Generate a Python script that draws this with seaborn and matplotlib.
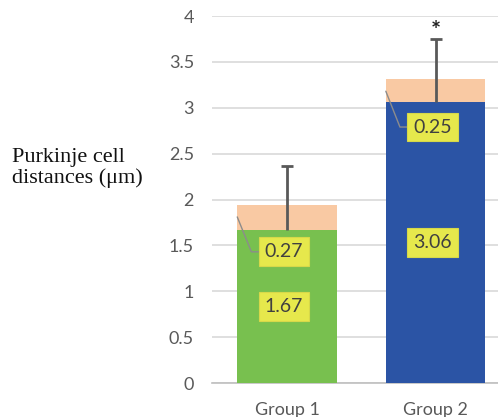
import matplotlib
matplotlib.use("Agg")
import matplotlib.pyplot as plt
import seaborn as sns
import pandas as pd

# values
groups = ["Group 1", "Group 2"]
base_vals = [1.67, 3.06]
extra_vals = [0.27, 0.25]
err_plus = [0.69, 0.69]
base_colors = ["#78C04F", "#2B54A5"]
extra_color = "#F9C9A3"

df = pd.DataFrame({"group": groups, "base": base_vals, "extra": extra_vals})
df["total"] = df["base"] + df["extra"]

sns.set_style("white")
plt.rcParams["font.family"] = ["Lato", "DejaVu Sans"]

fig = plt.figure(figsize=(4.98, 4.17), dpi=100)
ax = fig.add_axes([0.4257, 0.0815, 0.5743, 0.8801])

# stacked bars: total first (peach), base drawn over it
sns.barplot(data=df, x="group", y="total", color=extra_color, width=0.67,
            saturation=1, linewidth=0, ax=ax, zorder=2)
sns.barplot(data=df, x="group", y="base", hue="group", palette=base_colors,
            width=0.67, saturation=1, linewidth=0, legend=False, ax=ax, zorder=3)

# plus-only error bars from the top of the base series
eb = ax.errorbar(range(len(groups)), df["base"], yerr=[[0] * len(groups), err_plus],
                 fmt="none", ecolor="#595959", elinewidth=2, capsize=4.5, capthick=2,
                 zorder=4)
eb[1][0].set_visible(False)  # no cap at the bottom end

# significance star
ax.text(1, df["base"][1] + err_plus[1] + 0.08, "*", ha="center", va="center",
        fontsize=17, fontweight="bold", color="#222222", clip_on=False)

box = dict(boxstyle="square,pad=0.3", fc="#E6E84C", ec="#D6D84A", lw=0.8)
lab_kw = dict(ha="center", va="center", fontsize=14, color="#404040", bbox=box, zorder=6)

for i in range(len(groups)):
    b = df["base"][i]
    ax.text(i - 0.02, b / 2, f"{b:.2f}", **lab_kw)

# labels for the peach segments with leader lines
extra_pos = [(-0.02, 1.43), (0.98, 2.79)]
for i, (lx, ly) in enumerate(extra_pos):
    t = df["total"][i]
    ax.plot([i - 0.335, i - 0.24, lx - 0.17], [t - 0.13, ly, ly],
            color="#8C8C8C", lw=1, zorder=5)
    ax.text(lx, ly, f"{extra_vals[i]:.2f}", **lab_kw)

ax.set_ylim(0, 4)
ax.set_xlim(-0.505, 1.42)
ax.set_yticks([0, 0.5, 1, 1.5, 2, 2.5, 3, 3.5, 4])
ax.set_yticklabels(["0", "0.5", "1", "1.5", "2", "2.5", "3", "3.5", "4"])
ax.yaxis.grid(True, color="#D9D9D9", lw=1.2, zorder=0)
ax.set_axisbelow(True)
sns.despine(ax=ax, left=True, top=True, right=True)
ax.spines["bottom"].set_color("#BFBFBF")
ax.spines["bottom"].set_linewidth(1.2)
ax.tick_params(axis="both", length=0, labelsize=13, colors="#595959")
ax.tick_params(axis="y", pad=13)
ax.tick_params(axis="x", pad=14)
ax.set_xlabel("")
ax.set_ylabel("")

fig.text(0.025, 0.597, "Purkinje cell\ndistances (\u03bcm)", ha="left", va="center",
         fontsize=16, family=["Liberation Serif", "DejaVu Serif"], color="#111111",
         linespacing=1.1)

fig.savefig("out.png", dpi=100)
